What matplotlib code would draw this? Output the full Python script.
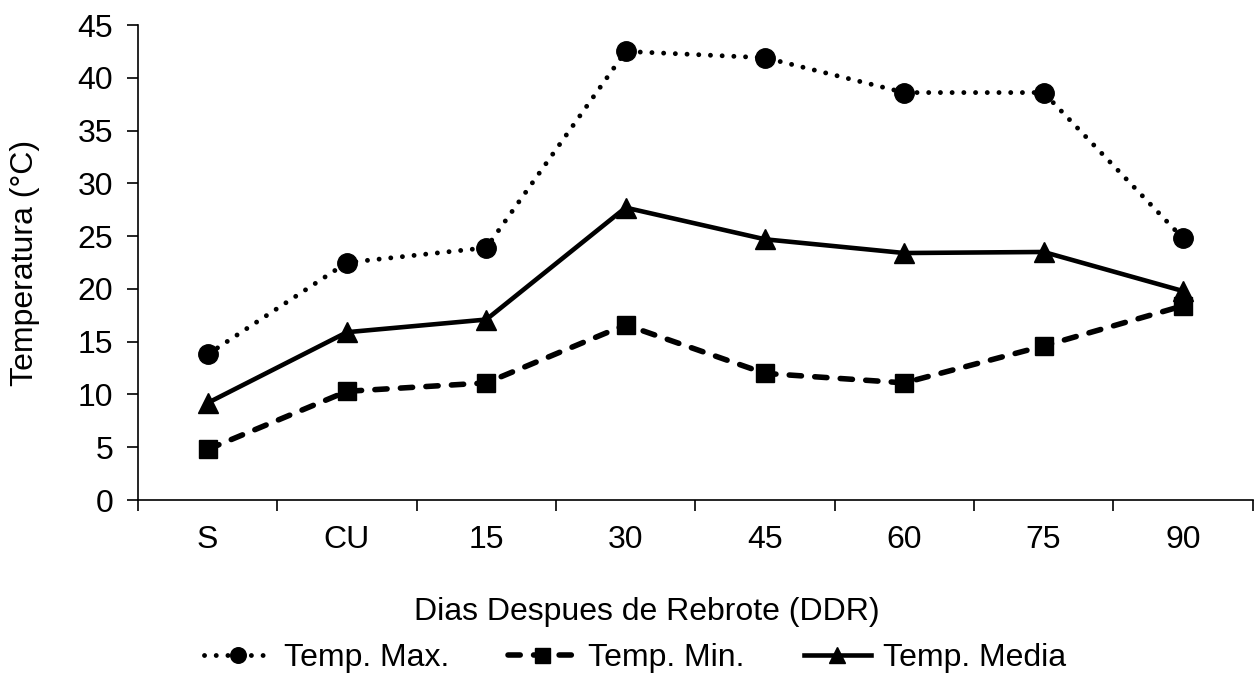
import numpy as np
import matplotlib
matplotlib.use("Agg")
from matplotlib import pyplot as plt

# category labels and series
categorias = ['S', 'CU', '15', '30', '45', '60', '75', '90']
temp_max = [13.8, 22.5, 23.9, 42.5, 41.9, 38.6, 38.6, 24.8]
temp_min = [4.8, 10.3, 11.1, 16.6, 12.0, 11.1, 14.6, 18.4]
temp_media = [9.2, 15.9, 17.1, 27.7, 24.7, 23.4, 23.5, 19.8]
yticks = [0, 5, 10, 15, 20, 25, 30, 35, 40, 45]

plt.rcParams['font.family'] = ['Liberation Sans', 'DejaVu Sans']
fs = 23

fig = plt.figure(figsize=(12.58, 6.85), dpi=100)
ax = fig.add_axes([0.1097, 0.27, 0.886, 0.6935])

x = np.arange(len(categorias))

ax.plot(x, temp_max, color='black', lw=3.5, linestyle=(0, (0.01, 2.4)),
        dash_capstyle='round', marker='o', markersize=14, label='Temp. Max.')
ax.plot(x, temp_min, color='black', lw=4, linestyle=(0, (2.2, 2.4)),
        dash_capstyle='round', marker='s', markersize=13.5, label='Temp. Min.')
ax.plot(x, temp_media, color='black', lw=3.3, linestyle='-',
        marker='^', markersize=14, label='Temp. Media')

ax.set_xlim(-0.5, len(categorias) - 0.5)
ax.set_ylim(0, 45)
ax.set_yticks(yticks)
ax.set_xticks(x)
ax.set_xticklabels(categorias)
ax.set_xticks(np.arange(-0.5, len(categorias)), minor=True)
ax.tick_params(axis='x', which='major', length=0, pad=18, labelsize=fs)
ax.tick_params(axis='x', which='minor', length=8, width=1.2, direction='out')
ax.tick_params(axis='y', length=8, width=1.2, direction='out', pad=10, labelsize=fs)

for s in ['top', 'right']:
    ax.spines[s].set_visible(False)
ax.spines['left'].set_linewidth(1.2)
ax.spines['bottom'].set_linewidth(1.2)

ax.set_ylabel('Temperatura (°C)', fontsize=fs, labelpad=27)
ax.set_xlabel('Dias Despues de Rebrote (DDR)', fontsize=fs, labelpad=30, x=0.4565)

fig.legend(loc='center', bbox_to_anchor=(0.505, 0.039), ncol=3, frameon=False,
           fontsize=fs, handlelength=2.1, columnspacing=1.85, handletextpad=0.4,
           markerscale=0.8)

fig.savefig('out.png', dpi=100)
